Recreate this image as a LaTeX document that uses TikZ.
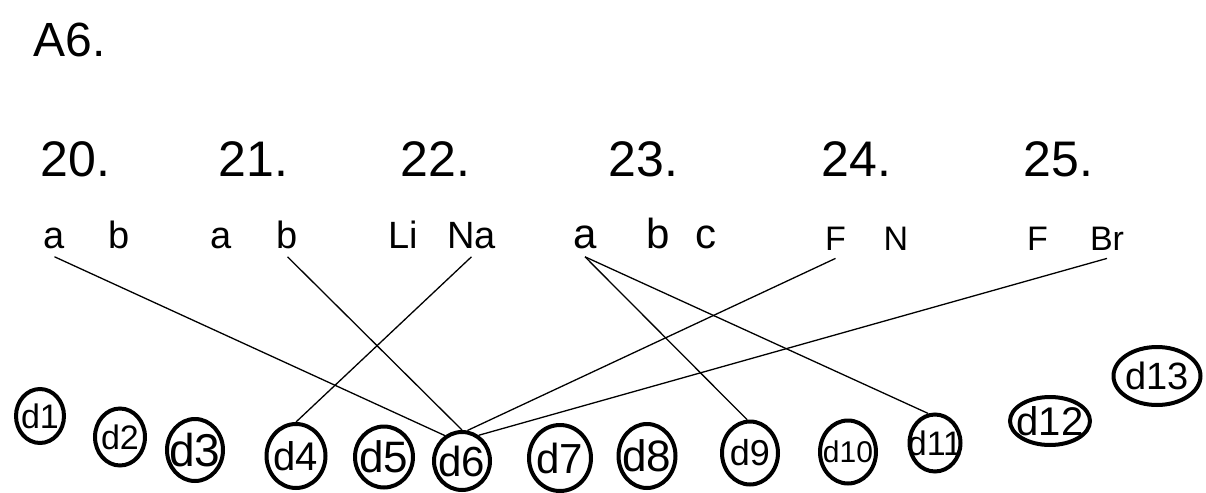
\documentclass[tikz,border=0pt]{standalone}
\usepackage{fontspec}
\setmainfont{Liberation Sans}
\usetikzlibrary{shapes.geometric}

\begin{document}
\begin{tikzpicture}[
  x=0.5pt, y=-0.5pt,
  title/.style={anchor=base west, inner sep=0pt, font=\fontsize{24}{24}\selectfont},
  qnum/.style={anchor=base west, inner sep=0pt, font=\fontsize{25}{25}\selectfont},
  opt/.style={anchor=base, inner sep=4pt, font=\fontsize{19}{19}\selectfont},
  bigopt/.style={opt, font=\fontsize{21}{21}\selectfont},
  smallopt/.style={opt, font=\fontsize{17}{17}\selectfont},
  dset/.style={ellipse, draw, line width=2pt, inner sep=-6pt},
  link/.style={line width=0.65pt},
]
\useasboundingbox (0,0) rectangle (1206,493);

% ---- heading and question numbers -----------------------------------------
\node[title] (head) at (33,56) {A6.};

\node[qnum] (q20) at (40.5,176)  {20.};
\node[qnum] (q21) at (218.5,176) {21.};
\node[qnum] (q22) at (400.5,176) {22.};
\node[qnum] (q23) at (608.5,176) {23.};
\node[qnum] (q24) at (821.5,176) {24.};
\node[qnum] (q25) at (1023.5,176) {25.};

% ---- answer choices --------------------------------------------------------
\node[opt] (a20)  at (54.5,248) {a};
\node[opt] (b20)  at (119,248)  {b};
\node[opt] (a21)  at (221,248)  {a};
\node[opt] (b21)  at (287.5,248) {b};
\node[opt] (li22) at (403.5,248) {Li};
\node[opt] (na22) at (471.5,248) {Na};
\node[bigopt] (a23) at (585,248) {a};
\node[bigopt] (b23) at (658,248) {b};
\node[bigopt] (c23) at (706,248) {c};
\node[smallopt] (f24)  at (835.5,250) {F};
\node[smallopt] (n24)  at (896,250)   {N};
\node[smallopt] (f25)  at (1037.5,250) {F};
\node[smallopt] (br25) at (1107,250)  {Br};

% ---- data ellipses (name/x/y/width/height/font size) ------------------------
\foreach \n/\cx/\cy/\w/\h/\s in {
    1/40/416/48/54/17, 2/120/437/50/57/17, 3/195/450/56/62/23,
    4/296/456/59/64/20, 5/384/457/58/61/22, 6/462/461/56/58/21,
    7/560/458/62/66/21, 8/647/456/57/64/22, 9/750/453/56/63/18,
    10/848/452/56/63/15, 11/935/443/51/57/17, 12/1050/421/80/48/20,
    13/1157/376/87/58/19}
  \node[dset, minimum width=\w*0.5pt, minimum height=\h*0.5pt,
        font=\fontsize{\s}{\s}\selectfont] (d\n) at (\cx,\cy) {d\n};

% ---- matches ---------------------------------------------------------------
\draw[link] (a20.south)  -- (d6.124);
\draw[link] (b21.south)  -- (d6.90);
\draw[link] (na22.south) -- (d4.north);
\draw[link] (a23.south)  -- (d9.95);
\draw[link] (a23.south)  -- (d11.103);
\draw[link] (f24.south)  -- (d6.80);
\draw[link] (br25.south) -- (d6.57);
\end{tikzpicture}
\end{document}
